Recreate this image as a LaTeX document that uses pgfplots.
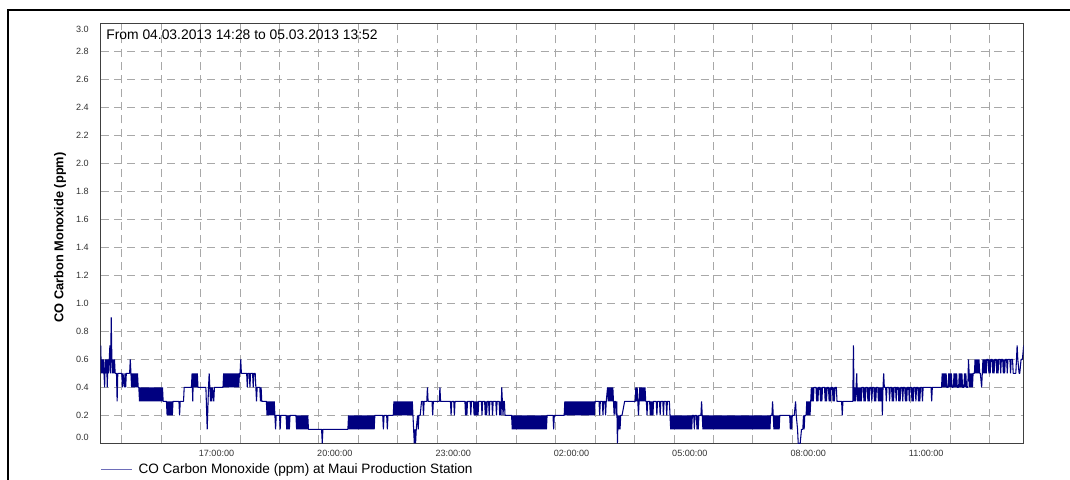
\documentclass[border=0pt]{standalone}
\usepackage{fontspec}
\setmainfont{Liberation Sans}
\usepackage{pgfplots}
\pgfplotsset{compat=1.18}
\definecolor{navyline}{RGB}{0,0,128}
\definecolor{legc}{RGB}{110,110,185}
\definecolor{gridc}{RGB}{168,168,168}
\definecolor{axc}{RGB}{64,64,64}
\definecolor{tickc}{RGB}{50,50,50}
\begin{document}
\begin{tikzpicture}
\begin{axis}[
  scale only axis,
  width=692.25pt, height=315pt,
  xmin=0, xmax=1404, ymin=0, ymax=3,
  axis line style={draw=axc, line width=0.9pt},
  major tick length=0pt,
  xtick={32,92,152,212,272,332,392,452,512,572,632,692,752,812,872,932,992,1052,1112,1172,1232,1292,1352},
  xticklabels={,,17:00:00,,,20:00:00,,,23:00:00,,,02:00:00,,,05:00:00,,,08:00:00,,,11:00:00,,},
  ytick={0,0.2,0.4,0.6,0.8,1.0,1.2,1.4,1.6,1.8,2.0,2.2,2.4,2.6,2.8,3.0},
  yticklabels={{\raisebox{4.2pt}{0.0}},0.2,0.4,0.6,0.8,1.0,1.2,1.4,1.6,1.8,2.0,2.2,2.4,2.6,2.8,{\raisebox{-4.2pt}{3.0}}},
  tick label style={font=\fontsize{6.8}{8}\selectfont, text=tickc},
  xticklabel style={anchor=north west, inner sep=0pt, yshift=-5pt, xshift=-1.5pt},
  yticklabel style={anchor=base east, inner sep=0pt, xshift=-8.8pt, yshift=-2.4pt},
  grid=major,
  grid style={draw=gridc, line width=0.7pt, dash pattern=on 6pt off 4pt},
  ylabel={CO Carbon Monoxide (ppm)},
  ylabel style={at={(axis description cs:-0.0441,0.49)}, anchor=center, font=\fontsize{9.6}{11}\selectfont\bfseries},
  legend style={at={(axis description cs:0,-0.0619)}, anchor=west, draw=none, fill=none, inner sep=0pt, outer sep=0pt, font=\fontsize{10.2}{12}\selectfont, legend cell align=left, nodes={inner sep=0pt}},
  legend image code/.code={\draw[line width=0.6pt, color=legc] (0pt,0pt) -- (23.25pt,0pt);},
]
\addplot[color=navyline, line width=0.8pt, line join=bevel] coordinates {
(0,.7)(1,.5)(2,.6)(3,.5)(4,.6)(5,.5)(6,.4)(7,.6)(8,.5)(9,.6)(10,.4)(11,.6)(12,.5)(13,.6)(14,.7)(15,.5)(16,.9)(17,.6)(18,.5)(19,.6)(20,.5)(21,.6)(22,.5)(24,.5)(25,.3)(26,.5)(32,.5)(33,.4)(34,.5)(36,.4)(37,.5)(38,.4)(39,.5)(44,.5)(45,.6)(46,.5)
(47,.4)(48,.5)(49,.4)(50,.5)(51,.4)(52,.5)(53,.4)(54,.5)(55,.4)(56,.5)(57,.4)(58,.4)
(59,.3)(60,.4)(61,.3)(62,.4)(63,.3)(64,.4)(65,.3)(66,.4)(67,.3)(68,.4)(69,.3)(70,.4)(71,.3)(72,.4)(73,.3)(74,.4)(75,.3)(76,.4)(77,.3)(78,.4)(79,.3)(80,.4)(81,.3)(82,.4)(83,.3)(84,.4)(85,.3)(86,.4)(87,.3)(88,.4)(89,.3)(90,.4)(91,.3)(92,.4)(93,.3)(94,.4)(95,.3)(96,.3)
(100,.3)(101,.2)(102,.3)(103,.2)(104,.3)(105,.2)(106,.3)(107,.2)(108,.3)(109,.2)(110,.3)(119,.3)(120,.2)(121,.3)(126,.3)(127,.4)(138,.4)(139,.5)(140,.3)(141,.5)(142,.4)(143,.5)(144,.4)(145,.5)(146,.4)(147,.5)(148,.4)(160,.4)(162,.1)(164,.4)(165,.5)(166,.4)(167,.3)(168,.4)(169,.3)(170,.4)(172,.3)(173,.4)(186,.4)
(187,.5)(188,.4)(189,.5)(190,.4)(191,.5)(192,.4)(193,.5)(194,.4)(195,.5)(196,.4)(197,.5)(198,.4)(199,.5)(200,.4)(201,.5)(202,.4)(203,.5)(204,.4)(205,.5)(206,.4)(207,.5)(208,.4)(209,.5)(210,.4)(211,.5)(212,.5)(213,.6)(214,.5)(222,.5)(223,.4)(224,.5)(226,.5)(227,.4)(228,.5)(231,.5)(232,.4)(233,.5)(235,.5)(236,.4)(237,.3)(238,.4)(242,.4)(243,.3)(244,.4)(245,.3)(252,.3)
(253,.2)(254,.3)(255,.2)(256,.3)(257,.2)(258,.3)(259,.2)(260,.3)(261,.2)(262,.3)(263,.2)(264,.3)(265,.2)(266,.1)(267,.2)(272,.2)(273,.1)(274,.2)(282,.2)(283,.1)(284,.2)(285,.1)(286,.2)(287,.1)(288,.2)(297,.2)(298,.1)(299,.2)(300,.1)(301,.2)(302,.1)(303,.2)(304,.1)(305,.2)(306,.1)(307,.2)(308,.1)(309,.2)(310,.1)(311,.2)(312,.1)(313,.2)(314,.1)(315,.2)(316,.1)(336,.1)(337,0)(338,.1)
(376,.1)(377,.2)(378,.1)(379,.2)(380,.1)(381,.2)(382,.1)(383,.2)(384,.1)(385,.2)(386,.1)(387,.2)(388,.1)(389,.2)(390,.1)(391,.2)(392,.1)(393,.2)(394,.1)(395,.2)(396,.1)(397,.2)(398,.1)(399,.2)(400,.1)(401,.2)(402,.1)(403,.2)(404,.1)(405,.2)(406,.1)(407,.2)(408,.1)(409,.2)(410,.1)(411,.2)(412,.1)(413,.2)(414,.1)(415,.2)(416,.1)(417,.2)(429,.2)(430,.1)(431,.2)(435,.2)(436,.1)(437,.2)(445,.2)
(446,.3)(447,.2)(448,.3)(449,.2)(450,.3)(451,.2)(452,.3)(453,.2)(454,.3)(455,.2)(456,.3)(457,.2)(458,.3)(459,.2)(460,.3)(461,.2)(462,.3)(463,.2)(464,.3)(465,.2)(466,.3)(467,.2)(468,.3)(469,.2)(470,.3)(471,.2)(472,.3)(473,.2)(474,.3)(475,.2)(477,0)(478,.1)(479,0)(480,.1)(482,.2)(483,.1)(484,.2)(486,.2)(488,.3)(490,.3)(491,.2)(492,.3)(496,.3)(497,.4)(498,.3)(504,.3)(505,.2)(506,.3)(515,.3)(516,.4)(517,.3)
(532,.3)(533,.2)(534,.3)(537,.3)(538,.2)(539,.3)(554,.3)(555,.2)(556,.3)(557,.2)(558,.3)(562,.3)(563,.2)(564,.3)(567,.3)(568,.2)(569,.3)(570,.2)(571,.3)(572,.2)(573,.3)(574,.2)(575,.3)(579,.3)(580,.2)(581,.3)(584,.3)(585,.2)(586,.3)(587,.2)(588,.3)(590,.3)(591,.2)(592,.3)(595,.3)(596,.2)(597,.3)(601,.3)(602,.2)(603,.3)(606,.3)(607,.2)(608,.3)(609,.2)(610,.4)(611,.3)(612,.2)(613,.3)(614,.3)(615,.2)(617,.2)(625,.2)
(626,.1)(627,.2)(628,.1)(629,.2)(630,.1)(631,.2)(632,.1)(633,.2)(634,.1)(635,.2)(636,.1)(637,.2)(638,.1)(639,.2)(640,.1)(641,.2)(642,.1)(643,.2)(644,.1)(645,.2)(646,.1)(647,.2)(648,.1)(649,.2)(650,.1)(651,.2)(652,.1)(653,.2)(654,.1)(655,.2)(656,.1)(657,.2)(658,.1)(659,.2)(660,.1)(661,.2)(662,.1)(663,.2)(664,.1)(665,.2)(666,.1)(667,.2)(668,.1)(669,.2)(670,.1)(671,.2)(672,.1)(673,.2)(674,.1)(675,.2)(676,.1)(677,.2)(678,.1)(679,.2)(688,.2)(689,.1)(690,.2)(705,.2)
(706,.3)(707,.2)(708,.3)(709,.2)(710,.3)(711,.2)(712,.3)(713,.2)(714,.3)(715,.2)(716,.3)(717,.2)(718,.3)(719,.2)(720,.3)(721,.2)(722,.3)(723,.2)(724,.3)(725,.2)(726,.3)(727,.2)(728,.3)(729,.2)(730,.3)(731,.2)(732,.3)(733,.2)(734,.3)(735,.2)(736,.3)(737,.2)(738,.3)(739,.2)(740,.3)(741,.2)(742,.3)(743,.2)(744,.3)(745,.2)(746,.3)(747,.2)(748,.3)(749,.2)(750,.3)(751,.2)(752,.3)
(758,.3)(759,.2)(760,.3)(763,.3)(764,.2)(765,.3)(767,.3)(768,.2)(769,.3)(771,.4)(772,.3)(773,.4)(774,.3)(775,.4)(776,.3)(777,.4)(778,.3)(779,.4)(780,.3)(781,.2)(782,.3)(783,.3)(784,.2)(785,.3)(786,0)(787,.2)(788,.1)(789,.2)(790,.1)(791,.2)(793,.2)(797,.3)(813,.3)(814,.4)(815,.3)(816,.4)(817,.3)(818,.2)(819,.3)(820,.4)(821,.3)(822,.4)(823,.3)(824,.4)(825,.3)(826,.4)(827,.3)(828,.4)(829,.3)(830,.3)(831,.2)(832,.3)(835,.3)(836,.2)(837,.3)(838,.2)(839,.3)(840,.2)(841,.3)(845,.3)(846,.2)(847,.3)(850,.3)(851,.2)(852,.3)(855,.3)(856,.2)(857,.3)(860,.3)(861,.2)(862,.3)(865,.3)
(866,.2)(867,.1)(868,.2)(869,.1)(870,.2)(871,.1)(872,.2)(873,.1)(874,.2)(875,.1)(876,.2)(877,.1)(878,.2)(879,.1)(880,.2)(881,.1)(882,.2)(883,.1)(884,.2)(885,.1)(886,.2)(887,.1)(888,.2)(889,.1)(890,.2)(891,.1)(892,.2)(893,.1)(894,.2)(895,.1)(896,.2)(897,.1)(898,.2)(899,.1)(900,.2)(902,.2)(903,.1)(904,.2)(906,.2)(907,.1)(908,.2)(909,.1)(910,.2)(913,.2)(914,.3)(915,.2)(916,.1)(917,.2)(918,.1)(919,.2)(920,.1)(921,.2)(922,.1)(923,.2)(924,.1)(925,.2)(926,.1)(927,.2)(928,.1)(929,.2)(930,.1)(931,.2)(932,.1)(933,.2)(934,.1)(935,.2)(936,.1)(937,.2)(938,.1)(939,.2)(940,.1)(941,.2)(942,.1)(943,.2)(944,.1)(945,.2)(946,.1)(947,.2)(948,.1)(949,.2)(950,.1)(951,.2)(952,.1)(953,.2)(954,.1)(955,.2)(956,.1)(957,.2)(958,.1)(959,.2)(960,.1)(961,.2)(962,.1)(963,.2)(964,.1)(965,.2)(966,.1)(967,.2)(968,.1)(969,.2)(970,.1)(971,.2)(972,.1)(973,.2)(974,.1)(975,.2)(976,.1)(977,.2)(978,.1)(979,.2)(980,.1)(981,.2)(982,.1)(983,.2)(984,.1)(985,.2)(986,.1)(987,.2)(988,.1)(989,.2)(990,.1)(991,.2)(992,.1)(993,.2)(994,.1)(995,.2)(996,.1)(997,.2)(998,.1)(999,.2)(1000,.1)(1001,.2)(1002,.1)(1003,.2)(1004,.1)(1005,.2)(1006,.1)(1007,.2)(1008,.1)(1009,.2)(1010,.1)(1011,.2)(1012,.1)(1013,.2)(1014,.1)(1015,.2)(1016,.1)(1017,.2)(1018,.1)(1019,.2)(1021,.2)(1022,.3)(1023,.2)(1024,.1)(1025,.2)(1026,.1)(1027,.2)(1028,.1)(1029,.2)(1030,.1)(1031,.2)(1032,.1)(1033,.2)(1048,.2)(1049,.1)
(1050,.2)(1051,.1)(1052,.2)(1055,.2)(1057,.3)(1058,.2)(1060,.1)(1061,0)(1064,0)(1066,.1)(1068,.1)(1069,.2)(1070,.1)(1071,.2)(1073,.2)(1074,.3)(1075,.2)(1076,.3)(1077,.2)(1078,.3)(1079,.2)(1080,.3)(1081,.4)(1082,.3)
(1083,.4)(1084,.3)(1085,.4)(1088,.4)(1089,.3)(1090,.4)(1091,.3)(1092,.4)(1094,.4)(1095,.3)(1096,.4)(1097,.3)(1098,.4)(1101,.4)(1102,.3)(1103,.4)(1104,.3)(1105,.4)(1107,.4)(1108,.3)(1109,.4)(1110,.3)(1111,.4)(1113,.4)(1114,.3)(1115,.4)(1116,.3)(1117,.4)(1119,.4)(1120,.3)
(1127,.3)(1128,.2)(1129,.3)(1144,.3)(1145,.7)(1146,.3)(1147,.4)(1148,.3)(1149,.4)(1150,.5)(1151,.3)(1152,.4)(1153,.3)(1154,.4)(1155,.3)(1156,.4)(1157,.3)(1158,.4)(1160,.4)(1161,.3)(1162,.4)(1163,.3)(1164,.4)(1166,.4)(1167,.3)(1168,.4)(1169,.3)(1170,.4)(1172,.4)(1173,.3)(1174,.4)(1176,.4)(1177,.3)(1178,.4)(1179,.3)(1180,.4)(1182,.4)(1183,.3)(1184,.4)(1185,.3)(1186,.4)(1187,.3)(1188,.4)(1189,.2)(1190,.4)(1191,.5)(1192,.4)(1194,.4)(1195,.3)(1196,.4)(1199,.4)(1200,.3)(1201,.4)(1203,.4)(1204,.3)(1205,.4)(1206,.3)(1207,.4)(1209,.4)(1210,.3)(1211,.4)(1213,.4)(1214,.3)(1215,.4)(1216,.3)(1217,.4)(1219,.4)(1220,.3)(1221,.4)(1223,.4)(1224,.3)(1225,.4)(1226,.3)(1227,.4)(1229,.4)(1230,.3)(1231,.4)(1233,.4)(1234,.3)(1235,.4)(1236,.3)(1237,.4)(1239,.4)(1240,.3)(1241,.4)(1243,.4)(1244,.3)(1245,.4)(1246,.3)(1247,.4)(1249,.4)(1250,.3)(1251,.4)(1263,.4)(1264,.3)(1265,.4)
(1279,.4)(1280,.5)(1281,.4)(1282,.5)(1283,.4)(1284,.5)(1285,.4)(1286,.5)(1287,.4)(1289,.4)(1290,.5)(1291,.4)(1292,.5)(1293,.4)(1294,.5)(1295,.4)(1297,.4)(1298,.5)(1299,.4)(1300,.5)(1301,.4)(1302,.5)(1303,.4)(1305,.4)(1306,.5)(1307,.4)(1308,.5)(1309,.4)(1310,.5)(1311,.4)(1313,.4)(1314,.5)(1315,.4)(1316,.5)(1317,.4)(1319,.4)(1320,.6)(1321,.5)(1322,.4)(1323,.5)(1324,.4)(1325,.5)(1326,.4)(1327,.5)
(1329,.5)(1330,.6)(1331,.5)(1332,.6)(1333,.5)(1334,.6)(1335,.5)(1336,.6)(1337,.5)(1338,.5)(1340,.4)(1341,.5)(1342,.6)(1343,.5)(1344,.6)(1345,.5)(1346,.6)(1347,.5)(1348,.6)(1350,.6)(1351,.5)(1352,.6)(1353,.5)(1354,.6)(1356,.6)(1357,.5)(1358,.6)(1359,.5)(1360,.6)(1362,.6)(1363,.5)(1364,.6)(1365,.5)(1366,.6)(1368,.6)(1369,.5)(1370,.6)(1372,.6)(1373,.5)(1374,.6)(1375,.5)(1376,.6)(1378,.6)(1379,.5)(1380,.6)(1383,.6)(1384,.5)(1385,.6)(1387,.6)(1388,.5)(1392,.5)(1394,.7)(1395,.6)(1397,.5)(1398,.5)(1400,.6)(1402,.6)(1404,.7)
};
\addlegendentry{\hspace{4.5pt}CO Carbon Monoxide (ppm) at Maui Production Station}
\node[anchor=west, inner sep=0pt, font=\fontsize{10.4}{12}\selectfont] at (axis description cs:0.0058,0.972) {From 04.03.2013 14:28 to 05.03.2013 13:52};
\end{axis}
\draw[black, line width=1.1pt] (-69.525pt,-30pt) -- (-69.525pt,324.975pt) -- (730pt,324.975pt);
\pgfresetboundingbox
\path[use as bounding box] (-75.525pt,-26.775pt) rectangle (726.975pt,332.475pt);
\end{tikzpicture}
\end{document}
